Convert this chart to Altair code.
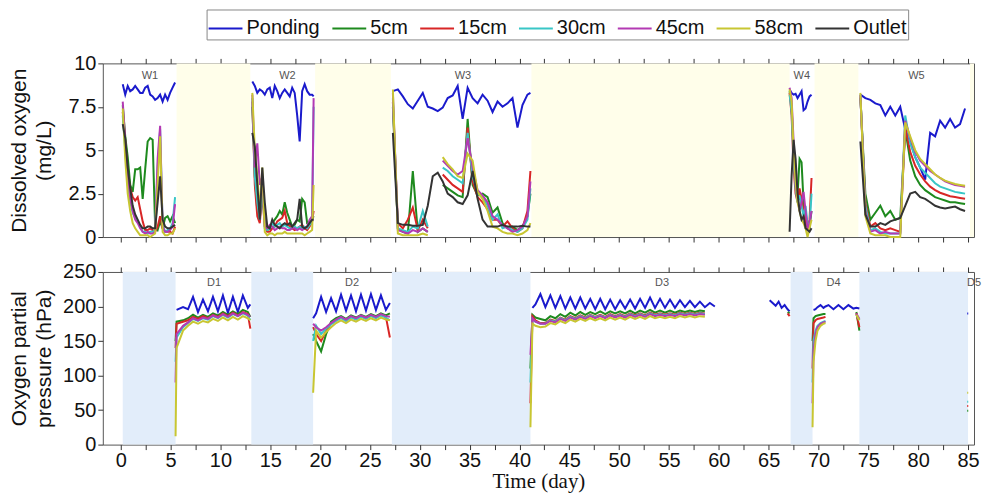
import altair as alt
import pandas as pd

SERIES = ["Ponding", "5cm", "15cm", "30cm", "45cm", "58cm", "Outlet"]
COLORS = ["#1a1acc", "#1e8a1e", "#d82626", "#38c6c6", "#b33ab3", "#c8c632", "#333333"]

# ---------------- top panel: dissolved oxygen (mg/L) ----------------
W1_T = [0.2, 0.45, 0.7, 0.95, 1.2, 1.45, 1.7, 1.95, 2.2, 2.45, 2.7, 2.95, 3.2, 3.45, 3.7, 3.95, 4.2, 4.45, 4.7, 4.95, 5.2, 5.45]
W1_POND = [8.8, 8.2, 8.7, 8.4, 8.5, 8.7, 8.5, 8.3, 8.3, 8.6, 8.7, 8.2, 8.1, 7.9, 8.0, 8.2, 7.8, 8.2, 7.9, 8.3, 8.6, 8.9]
W1_5CM = [7.6, 5.8, 4.6, 3.0, 2.6, 3.9, 3.9, 4.0, 2.2, 3.9, 5.5, 5.7, 5.6, 0.6, 0.4, 0.9, 0.5, 1.1, 1.2, 0.9, 1.2, 0.8]
W1_15CM = [7.2, 5.5, 3.6, 2.8, 2.3, 2.1, 2.3, 1.6, 0.9, 0.4, 0.4, 0.5, 0.4, 0.3, 0.6, 1.2, 0.5, 0.3, 0.3, 0.3, 0.2, 0.6]
W1_30CM = [7.0, 5.0, 3.0, 2.0, 1.4, 1.1, 0.9, 0.6, 0.3, 0.3, 0.2, 0.3, 0.3, 0.4, 4.0, 6.2, 0.7, 0.3, 0.4, 0.5, 0.8, 2.3]
W1_45CM = [7.8, 5.5, 3.5, 2.2, 1.5, 1.0, 0.8, 0.5, 0.3, 0.2, 0.3, 0.2, 0.2, 0.3, 4.5, 6.4, 0.6, 0.3, 0.3, 0.4, 0.6, 1.9]
W1_58CM = [7.4, 4.5, 2.5, 1.5, 0.8, 0.5, 0.3, 0.1, 0.1, 0.1, 0.1, 0.0, 0.1, 0.2, 3.0, 5.8, 0.3, 0.1, 0.1, 0.2, 0.2, 0.5]
W1_OUT = [6.5, 5.7, 4.0, 2.8, 1.8, 1.3, 1.0, 0.7, 0.5, 0.5, 0.6, 0.6, 0.5, 0.5, 2.0, 3.5, 1.0, 0.6, 0.5, 0.5, 0.6, 0.7]

W2_T = [13.2, 13.45, 13.7, 13.95, 14.2, 14.45, 14.7, 14.95, 15.2, 15.45, 15.7, 15.95, 16.2, 16.45, 16.7, 16.95, 17.2, 17.45, 17.7, 17.95, 18.2, 18.45, 18.7, 18.95, 19.2, 19.35]
W2_POND = [8.95, 8.7, 8.3, 8.5, 8.4, 8.2, 8.5, 8.6, 8.0, 8.7, 8.4, 8.0, 8.3, 8.5, 8.3, 8.1, 8.6, 8.3, 7.0, 5.5, 8.4, 8.8, 8.4, 8.2, 8.2, 8.1]
W2_5CM = [7.5, 3.5, 1.5, 1.0, 3.0, 0.8, 0.4, 0.5, 0.8, 1.0, 1.2, 1.5, 1.3, 2.0, 1.4, 1.0, 0.6, 0.7, 1.0, 0.9, 2.2, 2.0, 0.8, 0.8, 1.0, 1.2]
W2_15CM = [7.8, 3.0, 1.2, 0.8, 2.5, 0.6, 0.3, 0.3, 0.5, 0.6, 0.9, 1.0, 1.1, 1.5, 0.8, 0.6, 0.5, 0.4, 0.5, 0.6, 0.7, 0.5, 0.4, 0.6, 0.9, 1.5]
W2_30CM = [8.0, 3.5, 2.0, 1.0, 3.0, 0.5, 0.4, 0.5, 0.8, 0.6, 0.7, 0.8, 0.6, 0.7, 0.6, 0.5, 0.5, 0.6, 0.5, 0.6, 0.5, 0.6, 0.5, 0.7, 0.9, 7.5]
W2_45CM = [8.2, 4.0, 5.4, 3.0, 3.5, 0.6, 0.5, 0.7, 0.6, 0.4, 0.5, 0.6, 0.5, 0.5, 0.4, 0.4, 0.5, 0.5, 0.4, 0.5, 0.4, 0.5, 0.6, 1.0, 1.2, 8.0]
W2_58CM = [8.3, 5.0, 3.5, 1.5, 4.0, 0.3, 0.1, 0.2, 0.2, 0.1, 0.2, 0.2, 0.2, 0.3, 0.2, 0.2, 0.2, 0.2, 0.2, 0.2, 0.2, 0.1, 0.2, 0.3, 0.4, 3.0]
W2_OUT = [6.0, 5.2, 3.0, 1.0, 4.0, 2.0, 0.6, 0.5, 1.0, 0.7, 0.6, 0.5, 0.7, 0.8, 0.7, 0.8, 0.6, 0.8, 1.0, 2.2, 0.6, 0.5, 0.6, 0.8, 1.0, 1.0]

W3_T = [27.3, 27.8, 28.3, 28.8, 29.3, 29.8, 30.3, 30.8, 31.3, 31.8, 32.3, 32.8, 33.3, 33.8, 34.3, 34.8, 35.3, 35.8, 36.3, 36.8, 37.3, 37.8, 38.3, 38.8, 39.3, 39.8, 40.3, 40.8, 41.1]
W3_POND = [8.4, 8.5, 8.1, 7.65, 7.4, 7.85, 8.3, 7.5, 7.4, 7.25, 7.45, 8.0, 8.15, 8.7, 6.8, 8.6, 8.0, 7.7, 8.2, 7.85, 7.2, 7.8, 7.5, 7.7, 8.0, 6.3, 7.6, 8.2, 8.3]
W3_5CM = [7.5, 0.5, 0.3, 0.2, 3.8, 0.3, 0.5, 0.3, None, None, 3.0, 2.8, 2.6, 2.4, 2.3, 6.8, 3.0, 2.4, 2.5, 2.3, 1.4, 1.7, 0.8, 0.5, 0.6, 0.4, 0.6, 1.2, 2.5]
W3_15CM = [7.8, 0.8, 0.5, 1.0, 1.7, 0.4, 1.0, 0.5, None, None, 3.6, 3.3, 3.0, 2.8, 2.6, 6.3, 3.2, 2.3, 2.0, 1.6, 1.0, 1.0, 0.6, 0.9, 0.5, 0.3, 0.5, 1.5, 3.8]
W3_30CM = [8.0, 0.5, 0.4, 0.3, 0.6, 0.5, 1.5, 0.6, None, None, 4.0, 3.8, 3.5, 3.3, 3.1, 6.0, 3.5, 2.5, 2.3, 1.8, 1.0, 1.3, 0.5, 0.6, 0.4, 0.3, 0.5, 1.0, 2.8]
W3_45CM = [8.3, 0.4, 0.3, 0.2, 0.4, 0.3, 0.5, 0.3, None, None, 4.4, 4.1, 3.8, 3.6, 3.8, 5.7, 4.0, 2.7, 2.4, 2.0, 1.2, 1.0, 0.7, 0.5, 0.3, 0.4, 0.6, 1.2, 3.2]
W3_58CM = [8.5, 0.2, 0.1, 0.1, 0.1, 0.1, 0.2, 0.1, None, None, 4.6, 4.2, 3.9, 3.5, 3.4, 4.8, 4.4, 2.6, 2.2, 1.5, 0.6, 0.5, 0.3, 0.2, 0.2, 0.1, 0.2, 0.4, 0.8]
W3_OUT = [6.0, 0.8, 0.7, 0.7, 0.65, 0.65, 0.7, 1.8, 3.5, 3.7, 3.2, 2.5, 2.3, 2.0, 1.9, 2.4, 3.8, 2.2, 1.0, 0.6, 0.6, 0.6, 0.7, 0.6, 0.6, 0.6, 0.65, 0.6, 0.6]

W4_T = [67.1, 67.3, 67.5, 67.7, 67.9, 68.1, 68.3, 68.5, 68.7, 68.9, 69.1, 69.3]
W4_POND = [8.5, 8.3, 8.2, 8.25, 8.0, 8.2, 8.4, 7.3, 7.4, 7.8, 8.1, 8.2]
W4_5CM = [8.4, 7.5, 5.0, 3.0, 2.5, 4.5, 4.3, 2.0, 1.0, 0.8, 0.6, 1.5]
W4_15CM = [8.3, 7.0, 4.0, 2.5, 2.0, 2.8, 2.2, 1.5, 0.8, 0.5, 1.0, 3.4]
W4_30CM = [8.2, 7.2, 4.5, 2.8, 2.0, 2.4, 1.8, 1.2, 1.8, 0.8, 0.6, 2.5]
W4_45CM = [8.6, 8.0, 5.5, 3.0, 2.2, 1.5, 2.0, 2.6, 1.5, 0.5, 0.8, 1.5]
W4_58CM = [8.5, 7.8, 5.0, 3.2, 2.0, 1.5, 1.0, 0.8, 0.5, 0.0, 0.5, 1.0]
W4_OUT = [0.3, 3.5, 5.6, 4.5, 2.5, 1.5, 1.0, 1.2, 0.5, 0.4, 0.3, 0.5]

W5_T = [74.2, 74.7, 75.2, 75.7, 76.2, 76.7, 77.2, 77.7, 78.2, 78.7, 79.2, 79.7, 80.2, 80.7, 81.2, 81.7, 82.2, 82.7, 83.2, 83.7, 84.2, 84.7]
W5_POND = [8.2, 8.0, 7.9, 7.7, 7.6, 7.0, 7.5, 7.0, 7.5, 6.2, 5.5, 4.6, 4.0, 3.3, 6.0, 5.8, 6.7, 6.3, 6.8, 6.3, 6.5, 7.4]
W5_5CM = [8.0, 2.5, 1.0, 1.4, 1.8, 1.2, 1.5, 1.0, 1.1, 6.2, 4.4, 3.5, 3.0, 2.7, 2.5, 2.3, 2.2, 2.1, 2.0, 2.0, 1.95, 1.9]
W5_15CM = [8.1, 2.0, 0.6, 0.8, 0.5, 0.4, 0.5, 0.4, 0.3, 6.3, 4.9, 4.1, 3.6, 3.2, 2.9, 2.7, 2.55, 2.45, 2.35, 2.3, 2.25, 2.2]
W5_30CM = [8.2, 1.8, 0.4, 0.5, 0.3, 0.2, 0.2, 0.2, 0.2, 7.0, 5.4, 4.6, 4.0, 3.7, 3.4, 3.1, 2.9, 2.8, 2.7, 2.6, 2.55, 2.5]
W5_45CM = [8.2, 1.5, 0.3, 0.4, 0.2, 0.3, 0.2, 0.2, 0.2, 6.7, 5.7, 4.9, 4.4, 4.1, 3.8, 3.6, 3.4, 3.2, 3.1, 3.0, 2.95, 2.9]
W5_58CM = [8.3, 1.2, 0.2, 0.1, 0.1, 0.1, 0.0, 0.0, 0.0, 6.6, 5.8, 5.0, 4.5, 4.2, 3.9, 3.6, 3.4, 3.25, 3.15, 3.05, 3.0, 2.95]
W5_OUT = [5.5, 1.3, 0.6, 0.6, 0.8, 0.7, 0.9, 1.0, 1.1, 1.8, 2.5, 2.6, 2.3, 2.2, 2.0, 1.8, 1.7, 1.65, 1.7, 1.75, 1.6, 1.5]

# ---------------- bottom panel: oxygen partial pressure (hPa) ----------------
D1_T = [5.5, 5.6, 6.25, 6.75, 7.25, 7.75, 8.25, 8.75, 9.25, 9.75, 10.25, 10.75, 11.25, 11.75, 12.25, 12.75, 13.0]
D1_POND = [None, 195, 199, 196, 214, 192, 210, 193, 214, 193, 216, 191, 214, 192, 216, 198, 203]
D1_5CM = [150, 178, 180, 183, 188, 184, 188, 185, 190, 187, 192, 188, 193, 189, 195, 192, 185]
D1_15CM = [140, 175, 178, 180, 185, 182, 186, 183, 188, 185, 190, 186, 191, 187, 192, 189, 168]
D1_30CM = [120, 155, 170, 176, 182, 179, 183, 181, 186, 183, 188, 184, 189, 186, 190, 187, 180]
D1_45CM = [90, 160, 172, 177, 183, 180, 184, 182, 187, 184, 189, 185, 190, 186, 191, 188, 185]
D1_58CM = [12, 140, 165, 172, 178, 175, 179, 177, 182, 179, 184, 180, 185, 181, 186, 183, 180]

D2_T = [19.3, 19.6, 20.1, 20.6, 21.1, 21.6, 22.1, 22.6, 23.1, 23.6, 24.1, 24.6, 25.1, 25.6, 26.1, 26.6, 27.0]
D2_POND = [183, 190, 214, 192, 212, 193, 217, 194, 216, 193, 217, 194, 218, 195, 216, 195, 205]
D2_5CM = [160, 150, 135, 160, 178, 183, 186, 182, 187, 184, 188, 185, 189, 186, 190, 187, 190]
D2_15CM = [170, 160, 150, 165, 175, 180, 184, 180, 185, 182, 186, 183, 187, 184, 188, 185, 155]
D2_30CM = [150, 172, 160, 168, 174, 179, 183, 179, 184, 181, 185, 182, 186, 183, 187, 184, 180]
D2_45CM = [175, 170, 165, 170, 176, 181, 185, 181, 186, 183, 187, 184, 188, 185, 189, 186, 185]
D2_58CM = [75, 165, 155, 163, 170, 176, 180, 176, 181, 178, 182, 179, 183, 180, 184, 181, 180]

D3_T = [41.1, 41.3, 41.6, 42.1, 42.6, 43.1, 43.6, 44.1, 44.6, 45.1, 45.6, 46.1, 46.6, 47.1, 47.6, 48.1, 48.6, 49.1, 49.6, 50.1,
        50.6, 51.1, 51.6, 52.1, 52.6, 53.1, 53.6, 54.1, 54.6, 55.1, 55.6, 56.1, 56.6, 57.1, 57.6, 58.1, 58.6, 59.1, 59.6]
D3_POND = [None, 198, 203, 218, 199, 216, 198, 215, 197, 213, 197, 213, 197, 211, 196, 211, 196, 210, 196, 209,
           197, 210, 197, 211, 198, 213, 198, 211, 198, 210, 198, 209, 199, 208, 199, 207, 199, 205, 200]
D3_5CM = [110, 188, 184, 182, 180, 186, 183, 189, 185, 191, 187, 192, 188, 192, 189, 193, 189, 193, 190, 193,
          190, 194, 190, 194, 191, 195, 191, 194, 191, 194, 191, 194, 192, 194, 192, 194, 193, None, None]
D3_15CM = [60, 186, 180, 176, 176, 181, 179, 184, 181, 186, 183, 187, 184, 188, 185, 188, 185, 189, 186, 189,
           186, 190, 187, 190, 187, 191, 188, 190, 188, 190, 188, 191, 189, 191, 189, 191, 190, None, None]
D3_30CM = [90, 182, 178, 175, 175, 180, 178, 183, 180, 185, 182, 186, 183, 187, 184, 187, 184, 188, 185, 188,
           185, 189, 186, 189, 186, 190, 187, 189, 187, 189, 187, 190, 188, 190, 188, 190, 189, None, None]
D3_45CM = [130, 183, 178, 175, 175, 179, 177, 182, 179, 184, 181, 185, 182, 186, 183, 186, 183, 187, 184, 187,
           184, 188, 185, 188, 185, 189, 186, 188, 186, 188, 186, 189, 187, 189, 187, 189, 188, None, None]
D3_58CM = [25, 175, 172, 170, 171, 176, 174, 179, 176, 181, 178, 182, 179, 183, 180, 183, 180, 184, 181, 184,
           181, 185, 182, 185, 182, 186, 183, 185, 183, 185, 183, 186, 184, 186, 184, 186, 185, None, None]

D3B_T = [65.1, 65.4, 65.7, 66.0, 66.3, 66.6, 66.9, 67.1]
D3B_POND = [209, 205, 201, 207, 198, 202, 196, 193]
D3B_5CM = [None, None, None, None, None, None, 192, 190]
D3B_15CM = [None, None, None, None, None, None, 190, 186]

D4_T = [69.4, 69.5, 69.7, 69.9, 70.2, 70.5, 70.7, 71.0, 71.5, 72.0, 72.5, 73.0, 73.5, 73.8, 74.1]
D4_POND = [None, 195, 196, 199, 202, 198, 200, 202, 196, 202, 196, 202, 197, 198, 197]
D4_5CM = [150, 183, 186, 187, 188, 189, 189, None, None, None, None, None, None, 192, 165]
D4_15CM = [110, 176, 180, 182, 183, 184, 185, None, None, None, None, None, None, 190, 170]
D4_30CM = [90, 151, 165, 172, 176, 178, 179, None, None, None, None, None, None, 188, 180]
D4_45CM = [60, 135, 160, 170, 175, 177, 178, None, None, None, None, None, None, 190, 182]
D4_58CM = [25, 120, 150, 165, 172, 175, 176, None, None, None, None, None, None, 188, 180]

D5_T = [84.92, 85.02]
D5_POND = [190, 190]
D5_5CM = [49, 49]
D5_15CM = [56, 56]
D5_30CM = [62, 62]
D5_58CM = [75, 75]

# shaded periods (start, end) in days
TOP_SHADE_START = [5.6, 19.5, 41.2, 69.6, 85.2]
TOP_SHADE_END = [13.0, 27.1, 67.1, 74.0, 85.6]
BOT_SHADE_START = [0.2, 13.1, 27.2, 67.2, 74.1]
BOT_SHADE_END = [5.5, 19.3, 41.1, 69.4, 85.0]

# period labels (left edge of each text, in days)
TOP_LABELS = ["W1", "W2", "W3", "W4", "W5"]
TOP_LABEL_T = [2.1, 15.9, 33.5, 67.5, 79.0]
TOP_LABEL_V = [9.3, 9.3, 9.3, 9.3, 9.3]
BOT_LABELS = ["D1", "D2", "D3", "D4", "D5"]
BOT_LABEL_T = [8.65, 22.5, 53.6, 70.8, 84.9]
BOT_LABEL_V = [234, 234, 234, 234, 234]

X_TICKS = [i * 2.5 for i in range(35)]


def add_window(rows, win, t, named):
    for name, vals in named:
        seg = 0
        for ti, v in zip(t, vals):
            if v is None:
                seg += 1
                continue
            rows.append({"series": name, "seg": f"{win}-{name}-{seg}", "t": ti, "v": v})


top_rows = []
for win, t, p, a, b, c, d, e, o in [
    ("W1", W1_T, W1_POND, W1_5CM, W1_15CM, W1_30CM, W1_45CM, W1_58CM, W1_OUT),
    ("W2", W2_T, W2_POND, W2_5CM, W2_15CM, W2_30CM, W2_45CM, W2_58CM, W2_OUT),
    ("W3", W3_T, W3_POND, W3_5CM, W3_15CM, W3_30CM, W3_45CM, W3_58CM, W3_OUT),
    ("W4", W4_T, W4_POND, W4_5CM, W4_15CM, W4_30CM, W4_45CM, W4_58CM, W4_OUT),
    ("W5", W5_T, W5_POND, W5_5CM, W5_15CM, W5_30CM, W5_45CM, W5_58CM, W5_OUT),
]:
    add_window(top_rows, win, t, list(zip(SERIES, [p, a, b, c, d, e, o])))

bot_rows = []
add_window(bot_rows, "D1", D1_T, list(zip(SERIES[:6], [D1_POND, D1_5CM, D1_15CM, D1_30CM, D1_45CM, D1_58CM])))
add_window(bot_rows, "D2", D2_T, list(zip(SERIES[:6], [D2_POND, D2_5CM, D2_15CM, D2_30CM, D2_45CM, D2_58CM])))
add_window(bot_rows, "D3", D3_T, list(zip(SERIES[:6], [D3_POND, D3_5CM, D3_15CM, D3_30CM, D3_45CM, D3_58CM])))
add_window(bot_rows, "D3B", D3B_T, [("Ponding", D3B_POND), ("5cm", D3B_5CM), ("15cm", D3B_15CM)])
add_window(bot_rows, "D4", D4_T, list(zip(SERIES[:6], [D4_POND, D4_5CM, D4_15CM, D4_30CM, D4_45CM, D4_58CM])))
add_window(bot_rows, "D5", D5_T, [("Ponding", D5_POND), ("5cm", D5_5CM), ("15cm", D5_15CM), ("30cm", D5_30CM), ("58cm", D5_58CM)])

top_df = pd.DataFrame(top_rows)
bot_df = pd.DataFrame(bot_rows)
top_shade = pd.DataFrame({"a": TOP_SHADE_START, "b": TOP_SHADE_END})
bot_shade = pd.DataFrame({"a": BOT_SHADE_START, "b": BOT_SHADE_END})
top_lab = pd.DataFrame({"lab": TOP_LABELS, "t": TOP_LABEL_T, "v": TOP_LABEL_V})
bot_lab = pd.DataFrame({"lab": BOT_LABELS, "t": BOT_LABEL_T, "v": BOT_LABEL_V})

W = 873
H1 = 174
H2 = 173
FONT = "Liberation Sans"
x_scale = alt.Scale(domain=[-1.8, 85.6], nice=False, zero=False, padding=0)

color = alt.Color(
    "series:N",
    scale=alt.Scale(domain=SERIES, range=COLORS),
    legend=alt.Legend(
        title=None, orient="none", legendX=104, legendY=-54, direction="horizontal",
        symbolType="stroke", symbolSize=1150, symbolStrokeWidth=2, labelFontSize=20,
        labelFont=FONT, labelColor="#111", strokeColor="#888", padding=1, columnPadding=8,
        labelOffset=3, labelLimit=200,
    ),
)


def x_axis(orient, labels=False, title=None):
    kw = dict(orient=orient, values=X_TICKS, tickSize=5, domain=False, labels=labels, title=title)
    if labels:
        kw.update(labelExpr="datum.value % 5 === 0 ? '' + datum.value : ''",
                  labelFontSize=20, labelPadding=1, titleFont="Liberation Serif",
                  titleFontSize=21, titlePadding=0, titleFontWeight="normal")
    return alt.Axis(**kw)


def y_axis(values, title, h):
    return alt.Axis(values=values, labelExpr="'' + datum.value", tickSize=5, domain=False,
                    labelFontSize=20, labelPadding=2, title=title, titleX=-83, titleY=h / 2,
                    titleAlign="center", titleBaseline="middle", titleFontSize=21,
                    titleLineHeight=25, titleFontWeight="normal")


def panel(df, shade, lab, shade_color, ydom, yvals, ytitle, h, bottom_labels):
    sh = alt.Chart(shade).mark_rect(color=shade_color).encode(
        x=alt.X("a:Q", scale=x_scale, axis=x_axis("bottom", bottom_labels, "Time (day)" if bottom_labels else None)),
        x2="b:Q",
        y=alt.value(0),
        y2=alt.value(h),
    )
    ln = alt.Chart(df).mark_line(strokeWidth=2).encode(
        x=alt.X("t:Q", scale=x_scale, axis=x_axis("top")),
        y=alt.Y("v:Q", scale=alt.Scale(domain=ydom, nice=False, zero=False), axis=y_axis(yvals, ytitle, h)),
        color=color,
        detail="seg:N",
    )
    tx = alt.Chart(lab).mark_text(fontSize=11, font=FONT, color="#555", align="left").encode(
        x=alt.X("t:Q", scale=x_scale, axis=None),
        y=alt.Y("v:Q", scale=alt.Scale(domain=ydom, nice=False, zero=False), axis=None),
        text="lab:N",
    )
    return (alt.layer(sh, ln, tx)
            .resolve_axis(x="independent", y="independent")
            .properties(width=W, height=h))


top = panel(top_df, top_shade, top_lab, "#FFFEEA", [0, 10], [0, 2.5, 5, 7.5, 10],
            ["Dissolved oxygen", "(mg/L)"], H1, False)
bot = panel(bot_df, bot_shade, bot_lab, "#E2EDFA", [0, 250], [0, 50, 100, 150, 200, 250],
            ["Oxygen partial", "pressure (hPa)"], H2, True)

chart = (
    alt.vconcat(top, bot, spacing=13)
    .properties(padding=0)
    .configure_view(stroke="#555", strokeWidth=1)
    .configure_axis(labelFont=FONT, titleFont=FONT, labelColor="#111", titleColor="#111",
                    tickColor="#333", grid=False)
)

chart.save("out.html", embed_options={"renderer": "svg", "actions": False})
